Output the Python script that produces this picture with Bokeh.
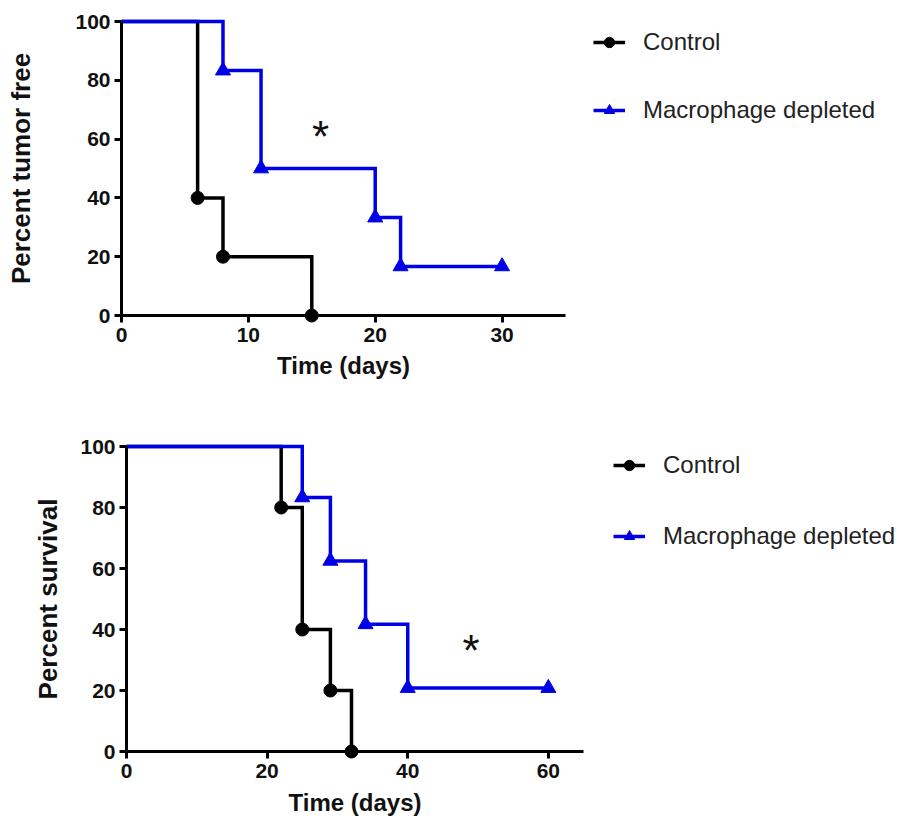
from bokeh.plotting import figure
from bokeh.models import Range1d, Legend, LegendItem, FixedTicker, Label
from bokeh.layouts import column
from bokeh.embed import file_html
from bokeh.resources import INLINE

# ---------------- data ----------------
# Top panel: tumor-free
tf_ctrl_days = [0, 6, 8, 15]
tf_ctrl_pct = [100, 40, 20, 0]
tf_mac_days = [0, 8, 11, 20, 22, 30]
tf_mac_pct = [100, 83.3, 50, 33.3, 16.7, 16.7]
tf_xticks = [0, 10, 20, 30]

# Bottom panel: survival
sv_ctrl_days = [0, 22, 25, 29, 32]
sv_ctrl_pct = [100, 80, 40, 20, 0]
sv_mac_days = [0, 25, 29, 34, 40, 60]
sv_mac_pct = [100, 83.3, 62.5, 41.7, 20.8, 20.8]
sv_xticks = [0, 20, 40, 60]

yticks = [0, 20, 40, 60, 80, 100]
series_names = ["Control", "Macrophage depleted"]

BLACK = "#000000"
BLUE = "#0000e6"
FONT = "Liberation Sans"


def span_range(total_px, px_at_zero, px_at_max, vmax, flip=False):
    """Range so that the whole canvas is the frame and 0 / vmax land on given pixels."""
    if flip:  # y: pixels grow downward
        scale = (px_at_zero - px_at_max) / vmax
        return Range1d(-(total_px - px_at_zero) / scale, px_at_zero / scale)
    scale = (px_at_max - px_at_zero) / vmax
    return Range1d(-px_at_zero / scale, (total_px - px_at_zero) / scale)


def make_panel(width, height, xgeom, ygeom, xmax, xticks, ctrl, mac,
               ylabel, ylabel_standoff, xlabel_standoff, legend_loc, legend_spacing,
               star_xy):
    p = figure(width=width, height=height,
               x_range=span_range(width, xgeom[0], xgeom[1], xmax),
               y_range=span_range(height, ygeom[0], ygeom[1], 100, flip=True),
               output_backend="svg", toolbar_location=None,
               min_border=0, min_border_left=0, min_border_right=0,
               min_border_top=0, min_border_bottom=0)
    p.outline_line_color = None
    p.grid.visible = False
    p.background_fill_color = "white"
    p.border_fill_color = "white"

    # step curves (black first so blue overlays at 100%)
    cl = p.step(ctrl[0], ctrl[1], mode="after", line_color=BLACK, line_width=3.5,
                line_join="miter")
    cs = p.scatter(ctrl[0][1:], ctrl[1][1:], marker="circle", size=13,
                   fill_color=BLACK, line_color=BLACK)
    ml = p.step(mac[0], mac[1], mode="after", line_color=BLUE, line_width=3.5,
                line_join="miter")
    ms = p.scatter(mac[0][1:], mac[1][1:], marker="triangle", size=15,
                   fill_color=BLUE, line_color=BLUE)

    for ax in (p.xaxis[0], p.yaxis[0]):
        ax.axis_line_width = 3
        ax.axis_line_color = BLACK
        ax.major_tick_line_width = 3
        ax.major_tick_line_color = BLACK
        ax.major_tick_out = 7
        ax.major_tick_in = 0
        ax.minor_tick_line_color = None
        ax.major_label_text_font = FONT
        ax.major_label_text_font_style = "bold"
        ax.major_label_text_font_size = "21px"
        ax.major_label_text_color = "#111111"
        ax.axis_label_text_font = FONT
        ax.axis_label_text_font_style = "bold"
        ax.axis_label_text_color = "#111111"

    xa = p.xaxis[0]
    xa.fixed_location = 0
    xa.bounds = (0, xmax)
    xa.ticker = FixedTicker(ticks=xticks)
    xa.axis_label = "Time (days)"
    xa.axis_label_text_font_size = "24px"
    xa.major_label_standoff = 5
    xa.axis_label_standoff = xlabel_standoff

    ya = p.yaxis[0]
    ya.fixed_location = 0
    ya.bounds = (0, 100)
    ya.ticker = FixedTicker(ticks=yticks)
    ya.axis_label = ylabel
    ya.axis_label_text_font_size = "26px"
    ya.major_label_standoff = 4
    ya.axis_label_standoff = ylabel_standoff

    legend = Legend(items=[LegendItem(label=series_names[0], renderers=[cl, cs]),
                           LegendItem(label=series_names[1], renderers=[ml, ms])],
                    location=legend_loc)
    legend.border_line_color = None
    legend.background_fill_color = None
    legend.label_text_font = FONT
    legend.label_text_font_size = "24px"
    legend.label_text_color = "#222222"
    legend.glyph_width = 32
    legend.glyph_height = 26
    legend.label_height = 26
    legend.label_standoff = 18
    legend.spacing = legend_spacing
    legend.padding = 10
    legend.margin = 0
    p.add_layout(legend)

    star = Label(x=star_xy[0], y=star_xy[1], text="*", text_align="center",
                 text_baseline="middle", text_font=FONT, text_font_size="44px",
                 text_color="#111111")
    p.add_layout(star)
    return p


p1 = make_panel(905, 410, (121, 565), (315, 21), 35, tf_xticks,
                (tf_ctrl_days, tf_ctrl_pct), (tf_mac_days, tf_mac_pct),
                "Percent tumor free", 36, 7, (593, 286), 40, (15.7, 61))
p2 = make_panel(905, 417, (126, 583), (341, 36), 65, sv_xticks,
                (sv_ctrl_days, sv_ctrl_pct), (sv_mac_days, sv_mac_pct),
                "Percent survival", 14, 8, (613, 277), 43, (49, 33))

layout = column(p1, p2, spacing=0)
open("out.html", "w").write(file_html(layout, INLINE))
